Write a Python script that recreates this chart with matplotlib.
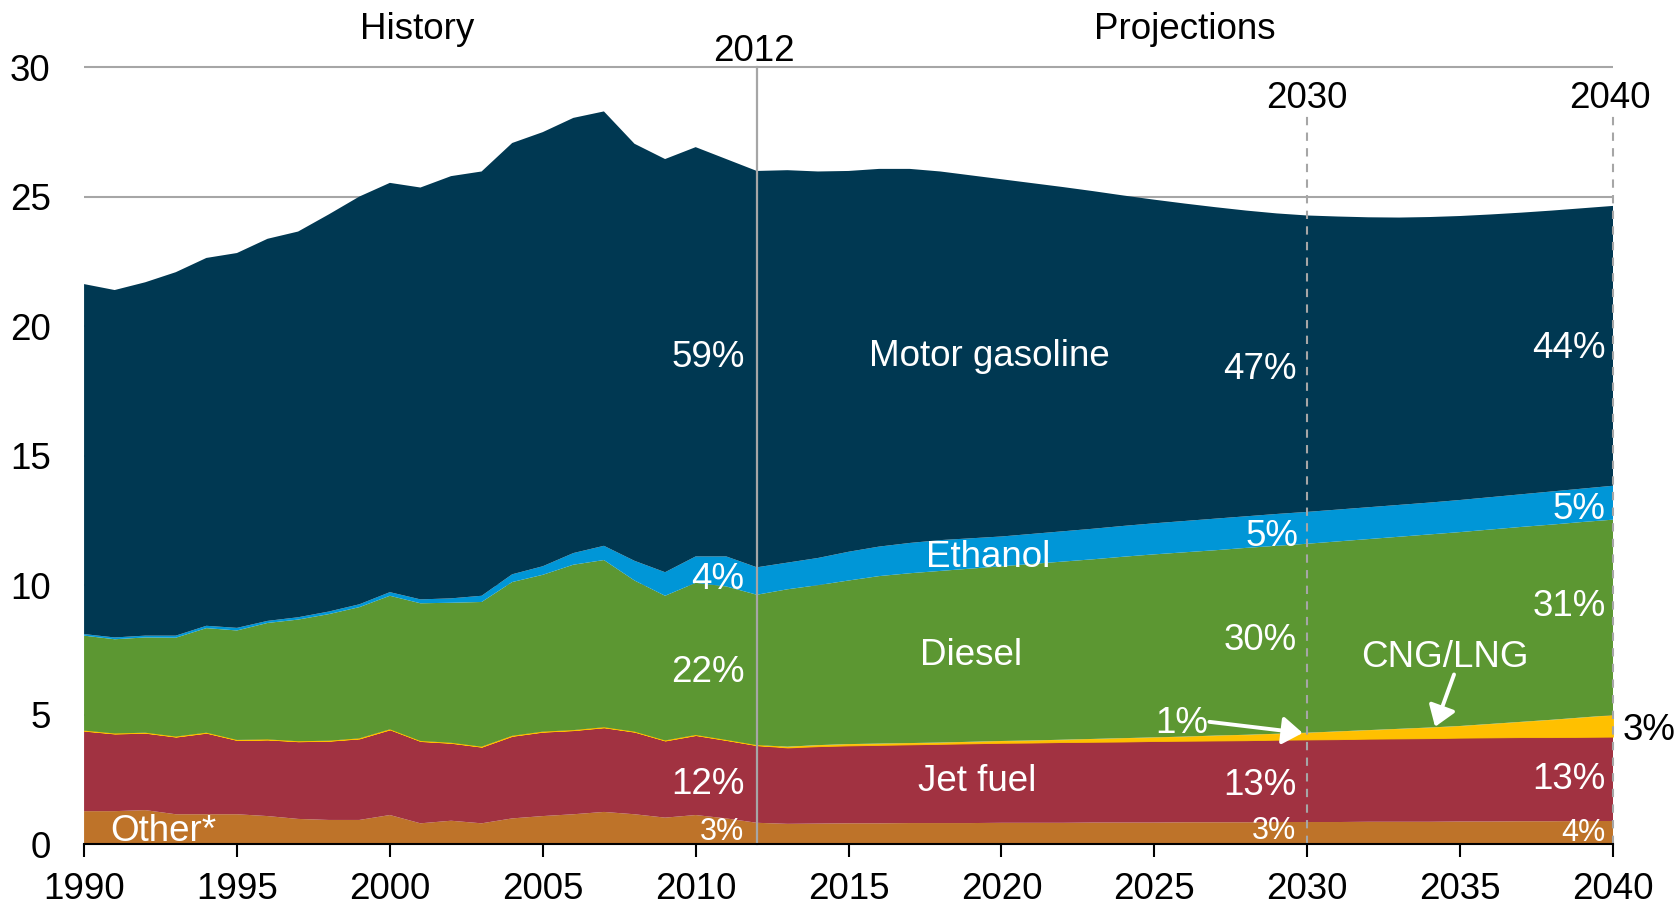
import matplotlib
matplotlib.use("Agg")
import matplotlib.pyplot as plt
import numpy as np

plt.rcParams['font.family'] = ['Liberation Sans', 'DejaVu Sans']

years = list(range(1990, 2041))

other = [1.27, 1.27, 1.31, 1.15, 1.15, 1.15, 1.08, 0.97, 0.93, 0.93, 1.12, 0.80, 0.90, 0.80, 0.99,
         1.08, 1.15, 1.24, 1.15, 1.02, 1.12, 0.99, 0.82,
         0.78, 0.79, 0.80, 0.80, 0.81, 0.81, 0.81, 0.82, 0.82, 0.82, 0.83, 0.83, 0.83, 0.84,
         0.84, 0.84, 0.85, 0.85, 0.85, 0.86, 0.86, 0.86, 0.87, 0.87, 0.88, 0.88, 0.89, 0.89]
jet_fuel = [3.11, 3.00, 2.99, 3.00, 3.15, 2.87, 2.96, 3.00, 3.06, 3.15, 3.31, 3.18, 3.01, 2.96, 3.19,
            3.26, 3.25, 3.27, 3.19, 2.98, 3.09, 3.03, 3.00,
            2.95, 2.99, 3.01, 3.03, 3.04, 3.06, 3.08, 3.09, 3.10, 3.12, 3.12, 3.13, 3.15, 3.15,
            3.16, 3.17, 3.18, 3.19, 3.20, 3.21, 3.22, 3.23, 3.24, 3.25, 3.25, 3.25, 3.25, 3.26]
cng_lng = [0.0] * 23 + [0.03, 0.04, 0.05, 0.05, 0.05, 0.05, 0.06, 0.07, 0.08, 0.09, 0.11, 0.13,
                        0.14, 0.16, 0.19, 0.21, 0.23, 0.26, 0.30, 0.33, 0.37, 0.41, 0.45, 0.52,
                        0.59, 0.67, 0.75, 0.83]
diesel = [3.67, 3.64, 3.68, 3.82, 4.04, 4.23, 4.50, 4.70, 4.89, 5.07, 5.16, 5.32, 5.41, 5.59, 5.94,
          6.06, 6.39, 6.46, 5.84, 5.59, 5.88, 5.93, 5.81,
          6.08, 6.18, 6.32, 6.47, 6.56, 6.63, 6.69, 6.75, 6.82, 6.88, 6.94, 7.01, 7.07, 7.12,
          7.16, 7.22, 7.26, 7.30, 7.34, 7.38, 7.42, 7.46, 7.49, 7.51, 7.53, 7.54, 7.55, 7.55]
ethanol = [0.06, 0.07, 0.07, 0.08, 0.09, 0.10, 0.08, 0.09, 0.10, 0.11, 0.14, 0.15, 0.17, 0.24, 0.30,
           0.33, 0.45, 0.55, 0.76, 0.91, 1.02, 1.16, 1.06,
           1.03, 1.05, 1.11, 1.14, 1.17, 1.19, 1.17, 1.15, 1.16, 1.17, 1.18, 1.19, 1.20, 1.21,
           1.22, 1.22, 1.23, 1.23, 1.23, 1.23, 1.23, 1.23, 1.24, 1.25, 1.26, 1.28, 1.29, 1.31]
motor_gasoline = [13.52, 13.42, 13.65, 14.04, 14.21, 14.48, 14.76, 14.90, 15.34, 15.75, 15.81, 15.91,
                  16.31, 16.39, 16.66, 16.77, 16.81, 16.78, 16.11, 15.96, 15.81, 15.35, 15.31,
                  15.16, 14.93, 14.71, 14.59, 14.45, 14.24, 14.02, 13.80, 13.55, 13.30, 13.04, 12.76,
                  12.50, 12.26, 12.03, 11.81, 11.61, 11.45, 11.32, 11.20, 11.10, 11.03, 10.97, 10.92,
                  10.88, 10.85, 10.83, 10.81]

x_ticks = list(range(1990, 2041, 5))
y_ticks = [0, 5, 10, 15, 20, 25, 30]

c_other = '#BE7329'
c_jet = '#A13241'
c_cng = '#FFC000'
c_diesel = '#5C9732'
c_eth = '#0096D7'
c_gas = '#003852'
grid_c = '#A6A6A6'

fig = plt.figure(figsize=(16.78, 9.06), dpi=100)
ax = fig.add_axes([0.0501, 0.0684, 0.9112, 0.8572])

ax.hlines(y_ticks[1:], 1990, 2040, color=grid_c, lw=1.5, zorder=0, clip_on=False)

polys = ax.stackplot(years, other, jet_fuel, cng_lng, diesel, ethanol, motor_gasoline,
                     colors=[c_other, c_jet, c_cng, c_diesel, c_eth, c_gas], linewidth=0, zorder=1)
polys[2].set_edgecolor(c_cng)
polys[2].set_linewidth(0.6)

ax.set_xlim(1990, 2040)
ax.set_ylim(0, 30)

# separators
ax.plot([2012, 2012], [0, 30], color=grid_c, lw=1.6, zorder=3, clip_on=False)
for yr in (2030, 2040):
    ax.plot([yr, yr], [0, 28.2], color=grid_c, lw=1.5, ls=(0, (4, 3.5)), zorder=3, clip_on=False)

for s in ('left', 'top', 'right'):
    ax.spines[s].set_visible(False)
ax.spines['bottom'].set_linewidth(1.5)
ax.spines['bottom'].set_zorder(5)

ax.set_xticks(x_ticks)
ax.set_yticks(y_ticks)
ax.tick_params(axis='x', direction='out', length=9, width=1.5, labelsize=26.5, pad=11)
ax.tick_params(axis='y', length=0, labelsize=26.5, pad=24)

fs = 26.5
W = 'white'
d = -0.15
kw = dict(fontsize=fs, zorder=6)
ax.text(2000.9, 31.6 + d, 'History', ha='center', va='center', **kw)
ax.text(2026.0, 31.6 + d, 'Projections', ha='center', va='center', **kw)
ax.text(2011.9, 30.75 + d, '2012', ha='center', va='center', **kw)
ax.text(2030.0, 28.95 + d, '2030', ha='center', va='center', **kw)
ax.text(2039.9, 28.95 + d, '2040', ha='center', va='center', **kw)

ax.text(2011.6, 18.93 + d, '59%', ha='right', va='center', color=W, **kw)
ax.text(2019.6, 18.97 + d, 'Motor gasoline', ha='center', va='center', color=W, **kw)
ax.text(2029.65, 18.47 + d, '47%', ha='right', va='center', color=W, **kw)
ax.text(2039.75, 19.3 + d, '44%', ha='right', va='center', color=W, **kw)

ax.text(2011.6, 10.37 + d, '4%', ha='right', va='center', color=W, **kw)
ax.text(2019.55, 11.2 + d, 'Ethanol', ha='center', va='center', color=W, **kw)
ax.text(2029.7, 12.02 + d, '5%', ha='right', va='center', color=W, **kw)
ax.text(2039.75, 13.06 + d, '5%', ha='right', va='center', color=W, **kw)

ax.text(2011.6, 6.78 + d, '22%', ha='right', va='center', color=W, **kw)
ax.text(2019.0, 7.44 + d, 'Diesel', ha='center', va='center', color=W, **kw)
ax.text(2029.65, 8.02 + d, '30%', ha='right', va='center', color=W, **kw)
ax.text(2039.75, 9.34 + d, '31%', ha='right', va='center', color=W, **kw)

ax.text(2034.5, 7.36 + d, 'CNG/LNG', ha='center', va='center', color=W, **kw)
ax.text(2025.9, 4.79 + d, '1%', ha='center', va='center', color=W, **kw)
ax.text(2040.3, 4.55 + d, '3%', ha='left', va='center', color='black', clip_on=False, **kw)

ax.text(2011.6, 2.44 + d, '12%', ha='right', va='center', color=W, **kw)
ax.text(2019.2, 2.56 + d, 'Jet fuel', ha='center', va='center', color=W, **kw)
ax.text(2029.65, 2.40 + d, '13%', ha='right', va='center', color=W, **kw)
ax.text(2039.75, 2.64 + d, '13%', ha='right', va='center', color=W, **kw)

ax.text(1990.84, 0.62 + d, 'Other*', ha='left', va='center', color=W, **kw)
ax.text(2011.6, 0.62 + d, '3%', ha='right', va='center', color=W, fontsize=22, zorder=6)
ax.text(2029.65, 0.66 + d, '3%', ha='right', va='center', color=W, fontsize=22, zorder=6)
ax.text(2039.75, 0.58 + d, '4%', ha='right', va='center', color=W, fontsize=22, zorder=6)

arrow = dict(arrowstyle='-|>,head_length=0.87,head_width=0.6', color=W, lw=2.8, mutation_scale=14,
             shrinkA=0, shrinkB=0)
ax.annotate('', xy=(2029.85, 4.29), xytext=(2026.8, 4.72), arrowprops=arrow, zorder=6)
ax.annotate('', xy=(2034.18, 4.53), xytext=(2034.8, 6.55), arrowprops=arrow, zorder=6)

fig.savefig('out.png', dpi=100)
